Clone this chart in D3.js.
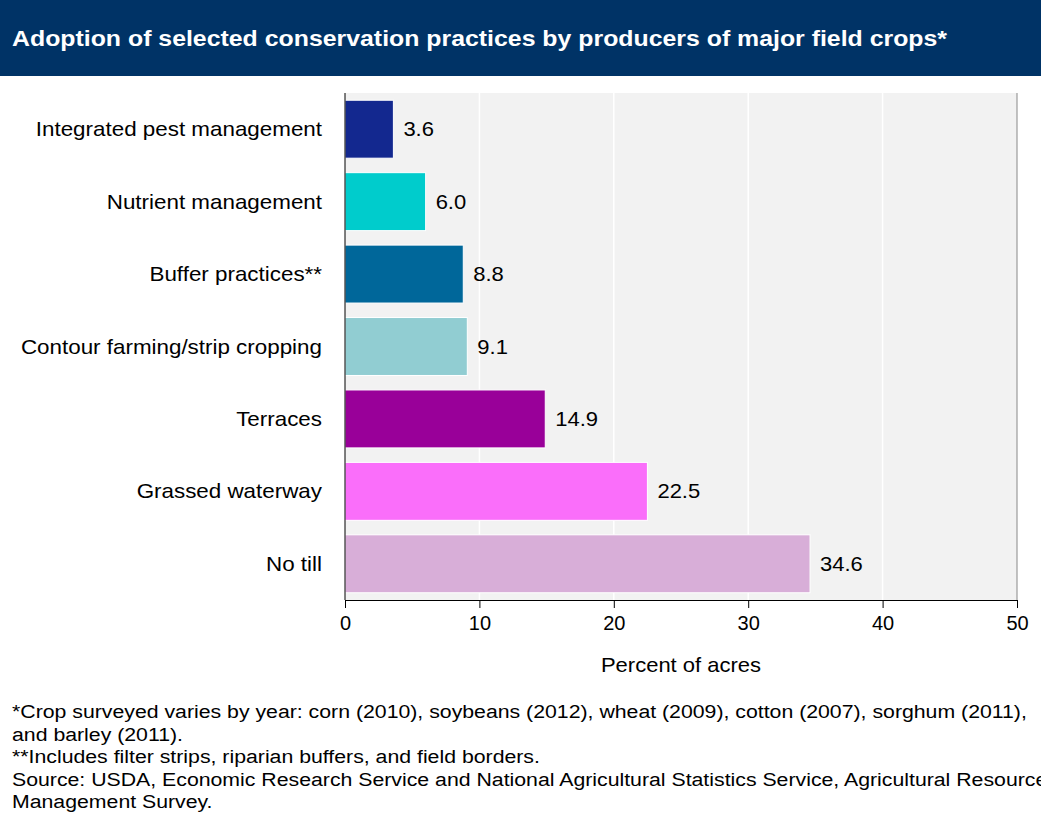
<!DOCTYPE html>
<html><head><meta charset="utf-8">
<script src="https://cdn.jsdelivr.net/npm/d3@7"></script>
<style>body{margin:0;background:#fff;font-family:"Liberation Sans",Arial,sans-serif;}</style>
</head><body>
<script>
var practices = ['Integrated pest management', 'Nutrient management', 'Buffer practices**', 'Contour farming/strip cropping', 'Terraces', 'Grassed waterway', 'No till'];
var values = [3.6, 6.0, 8.8, 9.1, 14.9, 22.5, 34.6];
var colors = ['#13288f', '#00cccc', '#00679a', '#91cdd2', '#990099', '#fa6efa', '#d8aed8'];
var ticks = [0, 10, 20, 30, 40, 50];
var notes = ['*Crop surveyed varies by year: corn (2010), soybeans (2012), wheat (2009), cotton (2007), sorghum (2011),',
  'and barley (2011).', '**Includes filter strips, riparian buffers, and field borders.',
  'Source: USDA, Economic Research Service and National Agricultural Statistics Service, Agricultural Resource',
  'Management Survey.'];

var width = 1041, height = 832;
var svg = d3.select('body').append('svg').attr('width', width).attr('height', height);

// text slightly wider than Liberation, like the original's Helvetica
function place(tx, ty, s) { return 'translate(' + tx + ',' + ty + ') scale(' + s + ',1)'; }

svg.append('rect').attr('width', width).attr('height', 76).attr('fill', '#003366');
svg.append('text').attr('transform', place(12, 46, 1.13)).attr('fill', '#fff')
  .style('font-size', '22px').style('font-weight', 'bold')
  .text('Adoption of selected conservation practices by producers of major field crops*');

var x = d3.scaleLinear().domain([0, 50]).range([345, 1017]);
var y = d3.scaleBand().domain(practices).range([93, 600]).paddingInner(0.2).paddingOuter(0.1);

svg.append('rect').attr('x', x(0)).attr('y', 93).attr('width', x(50) - x(0)).attr('height', 507).attr('fill', '#f2f2f2');
svg.selectAll('.grid').data(ticks.slice(1, -1)).enter().append('line')
  .attr('x1', x).attr('x2', x).attr('y1', 93).attr('y2', 600).attr('stroke', '#fff').attr('stroke-width', 1.5);
svg.append('line').attr('x1', x(50)).attr('x2', x(50)).attr('y1', 93).attr('y2', 600).attr('stroke', '#888');

svg.selectAll('.bar').data(values).enter().append('rect')
  .attr('x', x(0)).attr('y', (d, i) => y(practices[i]))
  .attr('width', d => x(d) - x(0)).attr('height', y.bandwidth())
  .attr('fill', (d, i) => colors[i]).attr('stroke', '#fff').attr('stroke-width', 1);

svg.selectAll('.val').data(values).enter().append('text')
  .attr('transform', (d, i) => place(x(d) + 10, y(practices[i]) + y.bandwidth() / 2 + 7, 1.1))
  .style('font-size', '20px').text(d => d.toFixed(1));

svg.selectAll('.cat').data(practices).enter().append('text')
  .attr('transform', d => place(322, y(d) + y.bandwidth() / 2 + 7, 1.12)).attr('text-anchor', 'end')
  .style('font-size', '20px').text(d => d);

var ax = svg.append('g').attr('transform', 'translate(0,600)')
  .call(d3.axisBottom(x).tickValues(ticks).tickSize(8).tickPadding(8));
ax.selectAll('text').style('font-size', '20px').attr('fill', '#000').style('font-family', '"Liberation Sans",Arial,sans-serif');
ax.selectAll('line,path').attr('stroke', '#000');
svg.append('line').attr('x1', x(0)).attr('x2', x(0)).attr('y1', 93).attr('y2', 600).attr('stroke', '#000');

svg.append('text').attr('transform', place(681, 672, 1.1)).attr('text-anchor', 'middle')
  .style('font-size', '20px').text('Percent of acres');

svg.selectAll('.note').data(notes).enter().append('text')
  .attr('transform', (d, i) => place(12, 718 + i * 22.5, 1.12))
  .style('font-size', '19px').text(d => d);
</script>
</body></html>
